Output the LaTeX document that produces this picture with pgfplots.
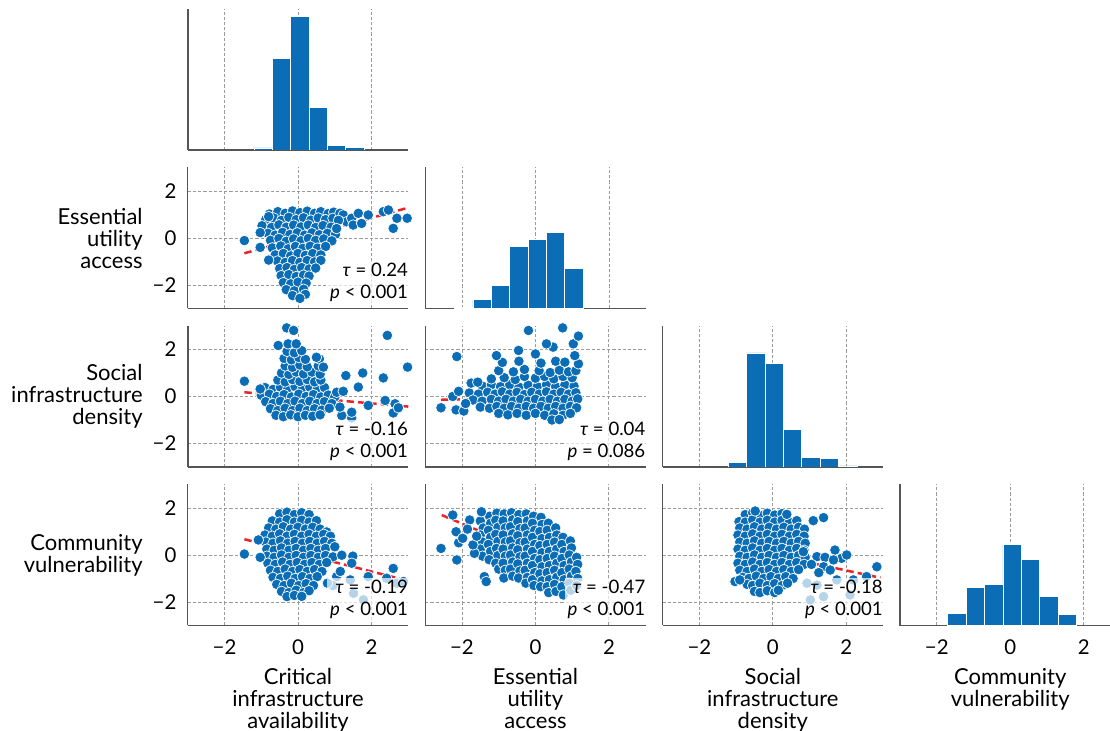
\documentclass[border=0pt]{standalone}
\usepackage{pgfplots}
\pgfplotsset{compat=1.18}
\usepackage{fontspec}
\setmainfont{Lato}
\definecolor{cb}{HTML}{0B6DB5}
\definecolor{spine}{HTML}{555555}
\definecolor{gridc}{HTML}{9A9A9A}
\definecolor{rl}{HTML}{E8252B}
\pgfplotsset{
  base/.style={scale only axis, width=110.25pt, height=70.5pt, xmin=-3, xmax=3,
    axis x line*=bottom, axis y line*=left,
    axis line style={spine, line width=0.7pt},
    xtick={-2,0,2}, ytick={-2,0,2},
    major tick length=0pt,
    xticklabels={}, yticklabels={},
    xmajorgrids, major grid style={gridc, dash pattern=on 1.6pt off 1pt, line width=0.45pt},
    tick label style={font=\fontsize{10.2}{12}\selectfont, inner sep=0pt},
    xticklabel style={yshift=-7pt},
    yticklabel style={xshift=-5.5pt},
    label style={font=\fontsize{11}{11}\selectfont, inner sep=0pt, align=center},
    xlabel style={at={(axis description cs:0.5,0)}, anchor=north, yshift=-21.2pt},
    ylabel style={rotate=-90, align=right, at={(axis description cs:0,0.5)}, anchor=east, xshift=-22.4pt},
    clip=true,
  },
  sc/.style={base, ymin=-3, ymax=3, ymajorgrids},
  hist/.style={base, ymin=0, ytick=\empty},
  dots/.style={only marks, mark=*, mark size=2.65pt, mark options={fill=cb, draw=white, line width=0.35pt}},
  reg/.style={rl, line width=1.25pt, dash pattern=on 3.7pt off 2pt},
  bars/.style={ybar interval, fill=cb, draw=white, line width=0.4pt},
  stat/.style 2 args={after end axis/.code={\node[anchor=south east, align=right, fill=white, fill opacity=0.7, text opacity=1, inner xsep=1.5pt, inner ysep=1pt, xshift=1.5pt, font=\fontsize{9.3}{11}\selectfont] at (rel axis cs:1,0.03) {\textit{τ} = #1\\\textit{p} #2};}},
}
\begin{document}
\begin{tikzpicture}
\useasboundingbox (0,0) rectangle (555pt,-365.5pt);
% ---------- row 1 ----------
\begin{axis}[hist, at={(93.9pt,-4.5pt)}, anchor=north west, ymax=417]
\addplot[bars] coordinates {(-1.2,6) (-0.7,272) (-0.2,394) (0.3,125) (0.8,14) (1.3,7) (1.8,0)};
\end{axis}
% ---------- row 2 ----------
\begin{axis}[sc, at={(93.9pt,-83.75pt)}, anchor=north west, yticklabels={−2,0,2}, ylabel={Essential\\utility\\access}, stat={0.24}{< 0.001}]
\addplot[dots] coordinates {
(-0.78,1.02) (-0.55,1.12) (-0.35,1.05) (-0.15,1.15) (0.05,1.08) (0.25,1.14) (0.45,1.05) (0.62,1.12) (0.82,1.04) (0.97,1.1)
(-0.88,0.78) (-0.66,0.85) (-0.45,0.75) (-0.25,0.88) (-0.05,0.78) (0.15,0.86) (0.35,0.76) (0.55,0.85) (0.75,0.78) (0.95,0.84)
(-0.98,0.52) (-0.72,0.45) (-0.52,0.56) (-0.32,0.46) (-0.12,0.55) (0.08,0.47) (0.28,0.55) (0.48,0.45) (0.68,0.53) (0.9,0.46)
(-0.82,0.2) (-0.62,0.12) (-0.42,0.24) (-0.22,0.15) (-0.02,0.22) (0.18,0.12) (0.38,0.22) (0.58,0.14) (0.8,0.2) (1.02,0.16)
(-0.75,-0.1) (-0.52,-0.02) (-0.32,-0.14) (-0.12,-0.04) (0.08,-0.12) (0.28,-0.02) (0.48,-0.1) (0.7,-0.04) (0.92,-0.12)
(-0.7,-0.42) (-0.47,-0.34) (-0.27,-0.46) (-0.07,-0.36) (0.13,-0.44) (0.33,-0.35) (0.53,-0.43) (0.75,-0.36)
(-0.62,-0.72) (-0.4,-0.66) (-0.2,-0.76) (0.0,-0.66) (0.2,-0.74) (0.4,-0.66) (0.62,-0.72)
(-0.56,-0.98) (-0.35,-1.04) (-0.15,-0.96) (0.05,-1.04) (0.25,-0.96) (0.45,-1.02) (0.62,-0.95)
(-0.5,-1.3) (-0.3,-1.26) (-0.1,-1.34) (0.1,-1.26) (0.3,-1.32) (0.48,-1.28)
(-0.46,-1.6) (-0.25,-1.56) (-0.05,-1.64) (0.15,-1.58) (0.3,-1.62)
(-0.4,-1.9) (-0.2,-1.95) (0.0,-1.88) (0.22,-1.92)
(-0.32,-2.2) (-0.1,-2.25) (0.15,-2.18)
(-0.15,-2.45) (0.2,-2.4) (0.05,-2.57)
(-1.46,-0.11) (-1.03,0.23) (-1.03,-0.4) (-0.8,-0.94) (-0.8,0.91)
(1.14,1.05) (1.23,0.98) (1.32,0.69) (1.46,0.84) (1.5,0.55) (1.64,1.05) (1.73,0.62) (1.91,0.98) (2.32,1.12) (2.46,1.19) (2.69,0.84) (2.59,0.41) (2.97,0.84) (1.1,0.75) (1.05,0.4)
};
\addplot[reg] coordinates {(-1.46,-0.65) (3.0,1.29)};
\end{axis}
\begin{axis}[hist, at={(212.6pt,-83.75pt)}, anchor=north west, ymax=418]
\addplot[bars] coordinates {(-2.2,2) (-1.7,26) (-1.2,67) (-0.7,185) (-0.2,204) (0.3,226) (0.8,120) (1.3,0)};
\end{axis}
% ---------- row 3 ----------
\begin{axis}[sc, at={(93.9pt,-163pt)}, anchor=north west, yticklabels={−2,0,2}, ylabel={Social\\infrastructure\\density}, stat={-0.16}{< 0.001}]
\addplot[dots] coordinates {
(-0.9,0.38) (-0.68,0.3) (-0.48,0.4) (-0.28,0.32) (-0.08,0.42) (0.12,0.34) (0.32,0.4) (0.52,0.3) (0.72,0.38)
(-1.0,0.05) (-0.78,0.1) (-0.58,0.0) (-0.38,0.08) (-0.18,-0.02) (0.02,0.1) (0.22,0.0) (0.42,0.08) (0.62,-0.02) (0.82,0.06) (1.0,-0.02)
(-0.88,-0.22) (-0.68,-0.3) (-0.48,-0.2) (-0.28,-0.3) (-0.08,-0.2) (0.12,-0.3) (0.32,-0.2) (0.52,-0.3) (0.72,-0.22) (0.92,-0.3)
(-0.75,-0.52) (-0.55,-0.6) (-0.35,-0.5) (-0.15,-0.6) (0.05,-0.5) (0.25,-0.6) (0.45,-0.52) (0.65,-0.58) (0.85,-0.5)
(-0.6,-0.8) (-0.4,-0.86) (-0.2,-0.78) (0.0,-0.86) (0.2,-0.8) (0.4,-0.84) (0.6,-0.78)
(-0.55,0.7) (-0.35,0.62) (-0.15,0.72) (0.05,0.64) (0.25,0.72) (0.45,0.62) (0.62,0.7)
(-0.45,1.0) (-0.25,0.94) (-0.05,1.04) (0.15,0.96) (0.38,1.04) (0.6,0.95)
(-0.35,1.3) (-0.15,1.24) (0.05,1.34) (0.25,1.26) (0.55,1.3)
(-0.38,1.62) (-0.18,1.56) (0.02,1.66) (0.2,1.58) (0.58,1.6)
(-0.3,1.92) (-0.1,1.86) (0.1,1.95)
(-0.54,2.17) (-0.27,2.24) (-0.05,2.24)
(-0.31,2.92) (-0.12,2.81) (0.5,1.67) (0.69,1.25)
(-1.46,0.65) (-1.03,0.32) (1.05,0.18) (1.23,0.22) (1.3,0.89) (1.64,0.4) (1.76,1.0) (1.91,-0.38) (2.32,0.79) (2.43,2.6) (2.37,-0.17) (2.64,-0.31) (2.59,-0.7) (2.73,-0.48) (2.98,1.25) (1.19,-0.81) (1.46,-0.91) (1.46,-0.67) (1.14,-0.45)
};
\addplot[reg] coordinates {(-1.46,0.18) (3.0,-0.43)};
\end{axis}
\begin{axis}[sc, at={(212.6pt,-163pt)}, anchor=north west, stat={0.04}{= 0.086}]
\addplot[dots] coordinates {
(-1.45,0.45) (-1.2,0.5) (-0.95,0.42) (-0.7,0.5) (-0.45,0.4) (-0.2,0.48) (0.05,0.42) (0.3,0.5) (0.55,0.42) (0.8,0.5) (1.05,0.44)
(-1.8,0.15) (-1.55,0.1) (-1.3,0.18) (-1.1,0.1) (-0.9,0.2) (-0.7,0.1) (-0.5,0.18) (-0.3,0.08) (-0.1,0.18) (0.1,0.1) (0.3,0.2) (0.5,0.1) (0.7,0.18) (0.9,0.1) (1.1,0.16)
(-1.7,-0.15) (-1.45,-0.2) (-1.2,-0.12) (-1.0,-0.2) (-0.8,-0.12) (-0.6,-0.2) (-0.4,-0.12) (-0.2,-0.2) (0.0,-0.12) (0.2,-0.2) (0.4,-0.12) (0.6,-0.2) (0.8,-0.12) (1.0,-0.2) (1.15,-0.1)
(-1.5,-0.45) (-1.25,-0.5) (-1.05,-0.42) (-0.85,-0.5) (-0.65,-0.42) (-0.45,-0.5) (-0.25,-0.42) (-0.05,-0.5) (0.15,-0.42) (0.35,-0.5) (0.55,-0.42) (0.75,-0.5) (0.95,-0.42) (1.12,-0.48)
(-1.0,-0.72) (-0.75,-0.78) (-0.5,-0.72) (-0.25,-0.8) (0.0,-0.72) (0.25,-0.8) (0.5,-0.74) (0.75,-0.8) (0.95,-0.72) (0.45,-1.0) (0.65,-0.98)
(-1.2,0.75) (-0.85,0.8) (-0.55,0.72) (-0.3,0.85) (0.0,0.78) (0.25,0.85) (0.5,0.75) (0.75,0.85) (1.0,0.8)
(-1.0,1.1) (-0.6,1.05) (-0.3,1.15) (0.1,1.1) (0.4,1.02) (0.65,1.12) (0.9,1.05) (1.1,1.1)
(-0.9,1.45) (-0.45,1.5) (0.15,1.42) (0.55,1.5) (0.8,1.46) (1.17,1.39)
(-1.06,1.74) (-0.46,1.96) (0.0,1.81) (1.07,1.74) (0.48,2.1) (0.3,2.24) (1.03,2.24) (1.17,2.57) (0.74,2.92) (-0.19,2.81) (-2.14,1.7)
(-2.57,-0.48) (-2.25,0.0) (-2.16,-0.57) (-2.09,0.22) (-1.95,-0.62) (-1.75,0.57) (-1.57,0.61) (-1.9,-0.3)
};
\addplot[reg] coordinates {(-2.57,-0.14) (1.16,0.01)};
\end{axis}
\begin{axis}[hist, at={(331.3pt,-163pt)}, anchor=north west, ymax=418]
\addplot[bars] coordinates {(-1.21,13) (-0.71,338) (-0.21,306) (0.29,110) (0.79,27) (1.29,24) (1.79,3) (2.29,0)};
\end{axis}
% ---------- row 4 ----------
\begin{axis}[sc, at={(93.9pt,-242.25pt)}, anchor=north west, yticklabels={−2,0,2}, xticklabels={−2,0,2}, ylabel={Community\\vulnerability}, xlabel={Critical\\infrastructure\\availability}, stat={-0.19}{< 0.001}]
\addplot[dots] coordinates {
(-0.5,1.75) (-0.3,1.82) (-0.1,1.72) (0.1,1.8) (0.3,1.72)
(-0.7,1.45) (-0.5,1.4) (-0.3,1.5) (-0.1,1.4) (0.1,1.48) (0.3,1.4) (0.5,1.46)
(-0.8,1.15) (-0.6,1.1) (-0.4,1.2) (-0.2,1.1) (0.0,1.18) (0.2,1.1) (0.4,1.18) (0.6,1.1) (0.78,0.98)
(-0.9,0.85) (-0.7,0.8) (-0.5,0.9) (-0.3,0.8) (-0.1,0.88) (0.1,0.8) (0.3,0.88) (0.5,0.8) (0.7,0.88) (0.88,0.8)
(-0.88,0.55) (-0.68,0.5) (-0.48,0.6) (-0.28,0.5) (-0.08,0.58) (0.12,0.5) (0.32,0.58) (0.52,0.5) (0.72,0.58) (0.92,0.5)
(-0.85,0.25) (-0.65,0.2) (-0.45,0.3) (-0.25,0.2) (-0.05,0.28) (0.15,0.2) (0.35,0.28) (0.55,0.2) (0.75,0.28) (1.0,0.35)
(-0.85,-0.05) (-0.65,-0.1) (-0.45,0.0) (-0.25,-0.1) (-0.05,-0.02) (0.15,-0.1) (0.35,-0.02) (0.55,-0.1) (0.75,-0.02) (0.95,-0.08)
(-0.82,-0.35) (-0.62,-0.4) (-0.42,-0.3) (-0.22,-0.4) (-0.02,-0.32) (0.18,-0.4) (0.38,-0.32) (0.58,-0.4) (0.78,-0.32)
(-0.75,-0.65) (-0.55,-0.7) (-0.35,-0.6) (-0.15,-0.7) (0.05,-0.62) (0.25,-0.7) (0.45,-0.62) (0.65,-0.7)
(-0.68,-0.95) (-0.48,-1.0) (-0.28,-0.9) (-0.08,-1.0) (0.12,-0.92) (0.32,-1.0) (0.52,-0.92)
(-0.58,-1.25) (-0.38,-1.3) (-0.18,-1.2) (0.02,-1.3) (0.22,-1.22) (0.42,-1.3)
(-0.45,-1.55) (-0.25,-1.6) (-0.05,-1.5) (0.15,-1.6) (0.3,-1.52)
(-0.3,-1.77) (-0.1,-1.72) (0.1,-1.76)
(1.19,-0.01) (1.49,-0.05) (1.46,-0.35) (1.05,-0.92) (1.42,-1.06) (1.51,-1.63) (1.78,-1.91) (1.91,-0.92) (2.41,-0.99) (2.59,-0.57) (2.69,-1.2) (2.87,-1.13)
(-1.46,0.04) (-1.03,-0.1) (-1.08,0.64) (1.15,-0.7) (0.95,-1.3) (0.8,-1.2)
};
\addplot[reg] coordinates {(-1.46,0.67) (3.0,-1.1)};
\end{axis}
\begin{axis}[sc, at={(212.6pt,-242.25pt)}, anchor=north west, xticklabels={−2,0,2}, xlabel={Essential\\utility\\access}, stat={-0.47}{< 0.001}]
\addplot[dots] coordinates {
(-1.45,1.75) (-1.5,1.45) (-1.42,1.15) (-1.5,0.85) (-1.44,0.55) (-1.5,0.25) (-1.44,-0.05)
(-1.25,1.65) (-1.22,1.35) (-1.28,1.05) (-1.22,0.75) (-1.28,0.45) (-1.22,0.15) (-1.26,-0.2)
(-1.05,1.78) (-1.08,1.48) (-1.02,1.18) (-1.08,0.88) (-1.02,0.58) (-1.06,0.28) (-1.02,-0.02) (-1.08,-0.35) (-1.0,-0.6)
(-0.85,1.75) (-0.88,1.45) (-0.82,1.15) (-0.88,0.85) (-0.82,0.55) (-0.88,0.25) (-0.82,-0.05) (-0.88,-0.35) (-0.82,-0.65) (-0.86,-0.98)
(-0.65,1.8) (-0.62,1.5) (-0.68,1.2) (-0.62,0.9) (-0.68,0.6) (-0.62,0.3) (-0.68,0.0) (-0.62,-0.3) (-0.68,-0.6) (-0.62,-0.9)
(-0.45,1.72) (-0.48,1.42) (-0.42,1.12) (-0.48,0.82) (-0.42,0.52) (-0.48,0.22) (-0.42,-0.08) (-0.48,-0.38) (-0.42,-0.68) (-0.46,-0.98)
(-0.25,1.75) (-0.22,1.45) (-0.28,1.15) (-0.22,0.85) (-0.28,0.55) (-0.22,0.25) (-0.28,-0.05) (-0.22,-0.35) (-0.28,-0.65) (-0.22,-0.95) (-0.26,-1.2)
(-0.05,1.65) (-0.08,1.35) (-0.02,1.05) (-0.08,0.75) (-0.02,0.45) (-0.08,0.15) (-0.02,-0.15) (-0.08,-0.45) (-0.02,-0.75) (-0.08,-1.05) (-0.04,-1.3)
(0.15,1.6) (0.18,1.3) (0.12,1.0) (0.18,0.7) (0.12,0.4) (0.18,0.1) (0.12,-0.2) (0.18,-0.5) (0.12,-0.8) (0.18,-1.1) (0.14,-1.35)
(0.35,1.35) (0.32,1.05) (0.38,0.75) (0.32,0.45) (0.38,0.15) (0.32,-0.15) (0.38,-0.45) (0.32,-0.75) (0.38,-1.05) (0.32,-1.35) (0.36,-1.6)
(0.55,1.15) (0.58,0.85) (0.52,0.55) (0.58,0.25) (0.52,-0.05) (0.58,-0.35) (0.52,-0.65) (0.58,-0.95) (0.52,-1.25) (0.56,-1.55)
(0.75,0.75) (0.72,0.45) (0.78,0.15) (0.72,-0.15) (0.78,-0.45) (0.72,-0.75) (0.78,-1.05) (0.72,-1.35) (0.76,-1.7)
(0.95,0.6) (0.98,0.3) (0.92,0.0) (0.98,-0.3) (0.92,-0.6) (0.98,-0.9) (0.92,-1.2) (0.96,-1.5)
(1.12,-0.1) (1.15,-0.4) (1.1,-0.7) (1.15,-1.0) (1.12,-1.3)
(-2.57,0.28) (-2.25,1.70) (-2.16,0.99) (-2.14,-0.21) (-2.09,0.52) (-1.98,0.71) (-1.79,1.49) (-1.66,0.07) (-1.7,0.43) (-1.47,1.84) (-1.39,-0.92) (-1.34,-1.13) (-1.85,1.1) (-1.6,0.8)
};
\addplot[reg] coordinates {(-2.55,1.70) (1.16,-0.75)};
\end{axis}
\begin{axis}[sc, at={(331.3pt,-242.25pt)}, anchor=north west, xticklabels={−2,0,2}, xlabel={Social\\infrastructure\\density}, stat={-0.18}{< 0.001}]
\addplot[dots] coordinates {
(-0.75,1.72) (-0.55,1.8) (-0.35,1.7) (-0.15,1.78) (0.05,1.7) (0.25,1.76)
(-0.92,1.42) (-0.75,1.4) (-0.55,1.5) (-0.35,1.4) (-0.15,1.48) (0.05,1.4) (0.25,1.48) (0.45,1.4) (0.65,1.46)
(-0.9,1.15) (-0.7,1.1) (-0.5,1.2) (-0.3,1.1) (-0.1,1.18) (0.1,1.1) (0.3,1.18) (0.5,1.1) (0.7,1.18) (0.86,1.1)
(-0.95,0.85) (-0.75,0.8) (-0.55,0.9) (-0.35,0.8) (-0.15,0.88) (0.05,0.8) (0.25,0.88) (0.45,0.8) (0.65,0.88) (0.85,0.8)
(-0.9,0.55) (-0.7,0.5) (-0.5,0.6) (-0.3,0.5) (-0.1,0.58) (0.1,0.5) (0.3,0.58) (0.5,0.5) (0.7,0.58) (0.88,0.5)
(-0.95,0.25) (-0.75,0.2) (-0.55,0.3) (-0.35,0.2) (-0.15,0.28) (0.05,0.2) (0.25,0.28) (0.45,0.2) (0.65,0.28) (0.85,0.2)
(-0.9,-0.05) (-0.7,-0.1) (-0.5,0.0) (-0.3,-0.1) (-0.1,-0.02) (0.1,-0.1) (0.3,-0.02) (0.5,-0.1) (0.7,-0.02) (0.88,-0.1)
(-0.95,-0.35) (-0.75,-0.4) (-0.55,-0.3) (-0.35,-0.4) (-0.15,-0.32) (0.05,-0.4) (0.25,-0.32) (0.45,-0.4) (0.65,-0.32) (0.85,-0.4)
(-0.9,-0.65) (-0.7,-0.7) (-0.5,-0.6) (-0.3,-0.7) (-0.1,-0.62) (0.1,-0.7) (0.3,-0.62) (0.5,-0.7) (0.7,-0.62)
(-0.82,-0.95) (-0.65,-1.0) (-0.45,-0.9) (-0.25,-1.0) (-0.05,-0.92) (0.15,-1.0) (0.35,-0.92) (0.55,-1.0)
(-0.7,-1.25) (-0.55,-1.3) (-0.35,-1.2) (-0.15,-1.3) (0.05,-1.22) (0.25,-1.3) (0.4,-1.2)
(-0.5,-1.55) (-0.35,-1.6) (-0.15,-1.52) (0.05,-1.6) (0.15,-1.5)
(-0.48,1.87) (0.38,1.73) (1.1,1.46) (1.38,1.59) (0.83,0.14) (1.2,-0.07) (1.42,-0.1) (1.69,0.21) (1.87,-0.14) (2.01,0.0) (1.65,-0.21) (1.38,-0.5) (1.56,-0.64) (2.83,-0.5) (1.02,-1.91) (1.38,-1.77) (2.1,-1.7) (1.74,-1.06) (2.19,-1.06) (2.55,-0.92) (0.93,-1.2) (1.2,-1.28) (-1.03,-1.13) (-0.9,-1.06) (1.05,-0.4) (1.25,-0.75)
};
\addplot[reg] coordinates {(-1.03,0.35) (2.93,-0.97)};
\end{axis}
\begin{axis}[hist, at={(450pt,-242.25pt)}, anchor=north west, ymax=421, xticklabels={−2,0,2}, xlabel={Community\\vulnerability}]
\addplot[bars] coordinates {(-1.7,36) (-1.2,113) (-0.7,122) (-0.2,241) (0.3,198) (0.8,86) (1.3,33) (1.8,0)};
\end{axis}
\end{tikzpicture}
\end{document}
